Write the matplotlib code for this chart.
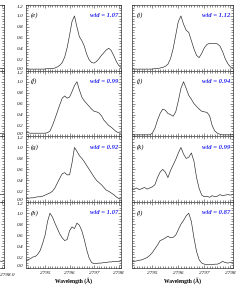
import numpy as np
import matplotlib
matplotlib.use("Agg")
from matplotlib import pyplot as plt
from matplotlib.ticker import MultipleLocator

plt.rcParams['font.family'] = ['Liberation Serif', 'DejaVu Serif']

# wavelength grid, Angstrom
wave = np.round(np.arange(2794.2, 2798.15, 0.1), 2)

# middle column (e)-(h)
spec_e = [0.03, 0.03, 0.03, 0.03, 0.03, 0.03, 0.03, 0.03, 0.03, 0.04, 0.04, 0.04, 0.05,
          0.07, 0.10, 0.15, 0.25, 0.42, 0.65, 0.90, 1.00, 0.80, 0.62, 0.55, 0.45, 0.30,
          0.20, 0.15, 0.14, 0.17, 0.22, 0.28, 0.33, 0.38, 0.41, 0.37, 0.28, 0.18, 0.10, 0.06]
spec_f = [0.07, 0.07, 0.06, 0.06, 0.06, 0.06, 0.06, 0.06, 0.06, 0.07, 0.10, 0.20, 0.32,
          0.45, 0.58, 0.70, 0.74, 0.70, 0.72, 0.82, 0.93, 1.00, 0.85, 0.72, 0.65, 0.60,
          0.55, 0.50, 0.46, 0.45, 0.43, 0.38, 0.30, 0.25, 0.20, 0.17, 0.13, 0.09, 0.07, 0.06]
spec_g = [0.07, 0.07, 0.08, 0.08, 0.09, 0.10, 0.10, 0.11, 0.13, 0.15, 0.17, 0.20, 0.26,
          0.35, 0.44, 0.52, 0.54, 0.50, 0.50, 0.72, 1.00, 0.93, 0.85, 0.80, 0.74, 0.67,
          0.60, 0.53, 0.46, 0.40, 0.36, 0.32, 0.27, 0.22, 0.20, 0.17, 0.14, 0.10, 0.07, 0.06]
spec_h = [0.14, 0.15, 0.17, 0.20, 0.21, 0.25, 0.32, 0.45, 0.60, 0.85, 1.00, 0.93, 0.82,
          0.72, 0.62, 0.55, 0.50, 0.52, 0.68, 0.75, 0.72, 0.82, 0.78, 0.68, 0.52, 0.33,
          0.18, 0.10, 0.08, 0.08, 0.09, 0.09, 0.10, 0.10, 0.11, 0.11, 0.12, 0.12, 0.12, 0.13]

# right column (i)-(l)
spec_i = [0.03, 0.03, 0.03, 0.03, 0.03, 0.03, 0.03, 0.03, 0.03, 0.04, 0.04, 0.05, 0.06,
          0.08, 0.12, 0.22, 0.40, 0.65, 0.90, 1.00, 0.85, 0.74, 0.70, 0.55, 0.40, 0.28,
          0.24, 0.32, 0.42, 0.48, 0.50, 0.50, 0.50, 0.49, 0.45, 0.35, 0.22, 0.13, 0.07, 0.05]
spec_j = [0.03, 0.03, 0.03, 0.03, 0.03, 0.03, 0.03, 0.03, 0.06, 0.15, 0.30, 0.42, 0.50,
          0.48, 0.42, 0.40, 0.37, 0.45, 0.65, 0.88, 1.00, 0.88, 0.75, 0.68, 0.60, 0.55,
          0.50, 0.46, 0.45, 0.44, 0.38, 0.20, 0.10, 0.06, 0.04, 0.03, 0.03, 0.03, 0.03, 0.03]
spec_k = [0.25, 0.24, 0.26, 0.23, 0.25, 0.27, 0.24, 0.26, 0.28, 0.32, 0.45, 0.55, 0.60,
          0.55, 0.45, 0.58, 0.68, 0.78, 0.90, 1.00, 0.88, 0.80, 0.82, 0.90, 0.75, 0.45,
          0.25, 0.13, 0.10, 0.11, 0.09, 0.12, 0.10, 0.11, 0.14, 0.12, 0.13, 0.14, 0.13, 0.14]
spec_l = [0.11, 0.12, 0.13, 0.14, 0.15, 0.17, 0.19, 0.23, 0.28, 0.35, 0.42, 0.50, 0.52,
          0.55, 0.58, 0.55, 0.56, 0.60, 0.70, 0.80, 0.87, 0.95, 1.00, 0.85, 0.55, 0.30,
          0.15, 0.09, 0.07, 0.06, 0.06, 0.06, 0.07, 0.07, 0.09, 0.12, 0.10, 0.09, 0.10, 0.10]

# tails of the cut-off left column
wave_left = [2797.7, 2797.8, 2797.9, 2798.0]
spec_left = [[0.05, 0.05, 0.04, 0.04],
             [0.06, 0.05, 0.06, 0.05],
             [0.14, 0.15, 0.14, 0.15],
             [0.12, 0.13, 0.12, 0.13]]

mid_specs = [spec_e, spec_f, spec_g, spec_h]
right_specs = [spec_i, spec_j, spec_k, spec_l]
mid_tags = ['(e)', '(f)', '(g)', '(h)']
right_tags = ['(i)', '(j)', '(k)', '(l)']
mid_wid = ['1.07', '0.99', '0.92', '1.07']
right_wid = ['1.12', '0.94', '0.99', '0.87']
xticks = [2795, 2796, 2797, 2798]
yticks = [0.0, 0.2, 0.4, 0.6, 0.8, 1.0, 1.2]

W, H = 242., 288.
fig = plt.figure(figsize=(W / 100, H / 100), dpi=100)

top = 5.
row_h = 65.75
blue = '#2b2bf0'
lc = '#333333'


def style(ax, ylab=True, xlab=False):
    ax.set_ylim(0, 1.2)
    ax.set_yticks(yticks)
    ax.yaxis.set_minor_locator(MultipleLocator(0.05))
    ax.xaxis.set_minor_locator(MultipleLocator(0.1))
    ax.tick_params(which='both', direction='in', top=True, right=True,
                   width=0.4, colors=lc, labelsize=3.8, pad=1.5, labelcolor='#111111')
    ax.tick_params(which='major', length=2.5)
    ax.tick_params(which='minor', length=1.2)
    ax.tick_params(axis='x', pad=2.5)
    for s in ax.spines.values():
        s.set_linewidth(0.5)
        s.set_color(lc)
    if ylab:
        labs = ax.set_yticklabels(['%.1f' % v for v in yticks], fontstyle='italic')
        labs[0].set_va('bottom')
        labs[-1].set_va('top')
    else:
        ax.set_yticklabels([])
    if not xlab:
        ax.set_xticklabels([])


def panel(x0, x1, row, wv, sp, tag, wid, ylab, xlim):
    y0 = top + row_h * (row + 1)
    ax = fig.add_axes([x0 / W, 1 - y0 / H, (x1 - x0) / W, row_h / H])
    ax.plot(wv, sp, color='#222222', lw=0.45)
    ax.set_xlim(*xlim)
    ax.set_xticks(xticks)
    style(ax, ylab=ylab, xlab=(row == 3))
    if row == 3:
        ax.set_xticklabels([str(t) for t in xticks], fontstyle='italic')
        ax.set_xlabel('Wavelength (Å)', fontsize=4, fontweight='bold', labelpad=1.5)
    ax.text(0.05, 0.84, tag, transform=ax.transAxes, fontsize=4.8,
            fontstyle='italic', va='center', ha='left')
    ax.text(0.97, 0.84, 'wid = ' + wid, transform=ax.transAxes, fontsize=4.8,
            fontstyle='italic', fontweight='bold', color=blue,
            va='center', ha='right')
    return ax


xl = (2794.22, 2798.1)
for r in range(4):
    panel(26, 121, r, wave, mid_specs[r], mid_tags[r], mid_wid[r], True, xl)
    panel(132, 233, r, wave, right_specs[r], right_tags[r], right_wid[r], False, xl)
    # cut-off column at the left edge
    y0 = top + row_h * (r + 1)
    ax = fig.add_axes([-91 / W, 1 - y0 / H, 95 / W, row_h / H])
    ax.plot(wave_left, spec_left[r], color='#222222', lw=0.45)
    ax.set_xlim(2794.0, 2798.0)
    ax.set_xticks([2798.0])
    style(ax, ylab=False, xlab=False)

# bottom tick label of the cut-off column
fig.text(0.5 / W, 1 - 275 / H, '2798.0', fontsize=3.8, fontstyle='italic',
         ha='left', va='center', color='#111111')

fig.savefig('out.png', dpi=100)
